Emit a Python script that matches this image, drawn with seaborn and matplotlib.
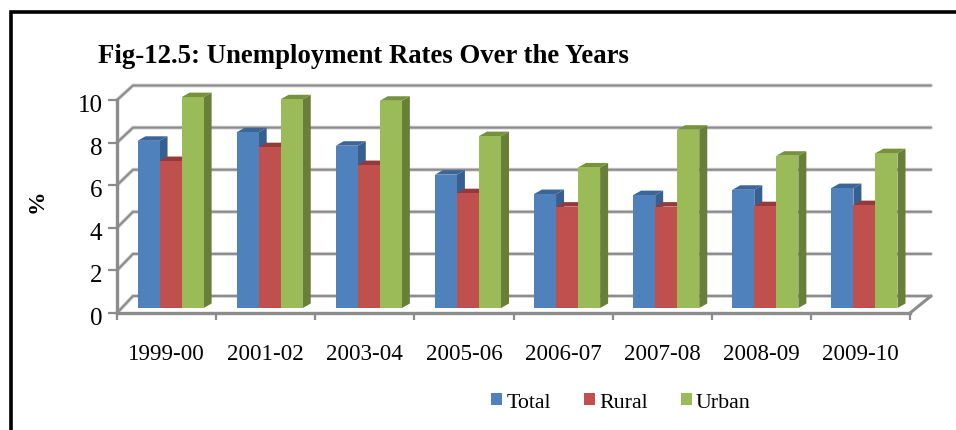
import matplotlib
matplotlib.use("Agg")
import matplotlib.pyplot as plt
import pandas as pd
import seaborn as sns
from matplotlib.patches import Polygon, Rectangle
from matplotlib.transforms import Affine2D

years = ["1999-00", "2001-02", "2003-04", "2005-06", "2006-07", "2007-08", "2008-09", "2009-10"]
total = [7.85, 8.25, 7.62, 6.26, 5.35, 5.3, 5.55, 5.63]
rural = [6.9, 7.55, 6.71, 5.39, 4.76, 4.76, 4.78, 4.83]
urban = [9.9, 9.8, 9.73, 8.07, 6.6, 8.37, 7.15, 7.27]

W, H = 956, 431
front_colors = {"Total": "#4F81BD", "Rural": "#C0504D", "Urban": "#9BBB59"}
side_colors = {"Total": "#375F8F", "Rural": "#8E3A38", "Urban": "#687F3A"}
top_colors = {"Total": "#3C6698", "Rural": "#95393A", "Urban": "#76923C"}
GRID = "#8C8C8C"
HALO = "#D4D4D4"

sns.set_theme(style="white")
plt.rcParams["font.family"] = ["Liberation Serif"]

df = pd.DataFrame({"Year": years, "Total": total, "Rural": rural, "Urban": urban}).melt(
    id_vars="Year", var_name="Series", value_name="Rate"
)

fig = plt.figure(figsize=(W / 100, H / 100), dpi=100, facecolor="white")
# front plane of the pseudo-3D box, in pixels
left, right, base, top = 117, 910, 314, 101
ax = fig.add_axes([left / W, 1 - base / H, (right - left) / W, (base - top) / H])
ax.patch.set_alpha(0)

ux = (right - left) / 8   # pixels per category
uy = (base - top) / 10    # pixels per percentage point

sns.barplot(data=df, x="Year", y="Rate", hue="Series", hue_order=list(front_colors),
            palette=front_colors, width=0.667, dodge=True, saturation=1, gap=0,
            ax=ax, legend=False, zorder=3, linewidth=0)
ax.set_xlim(-0.5, 7.5)
ax.set_ylim(0, 10)

# back wall and floor: the box narrows slightly towards the top
back_l, back_r = 16 / ux, 21 / ux
for v in range(0, 11, 2):
    rise = (17 - 0.25 * v) / uy
    xs = [-0.5, -0.5 + back_l, 7.5 + back_r]
    ys = [v, v + rise, v + rise]
    ax.plot(xs, ys, color=HALO, lw=2.8, clip_on=False, zorder=0.5, solid_joinstyle="miter")
    ax.plot(xs, ys, color=GRID, lw=1.5, clip_on=False, zorder=1, solid_joinstyle="miter")
ax.plot([7.5, 7.5 + back_r], [0, 17 / uy], color=GRID, lw=2.2, clip_on=False, zorder=2)

# move every bar onto the floor and extrude it backwards
shift_x, shift_y = 4 / ux, 5 / uy
depth_x, depth_y = 8 / ux, 4.5 / uy
names = list(front_colors)
for name, container in zip(names, ax.containers):
    z = 3 + names.index(name)
    for bar in container:
        x0, w, h = bar.get_x(), bar.get_width(), bar.get_height()
        bar.set_x(x0 + shift_x)
        bar.set_y(shift_y)
        bar.set_clip_on(False)
        bar.set_zorder(z + 0.2)
        xl, xr = x0 + shift_x, x0 + w + shift_x
        yb, yt = shift_y, h + shift_y
        ax.add_patch(Polygon([(xr, yb), (xr, yt), (xr + depth_x, yt + depth_y), (xr + depth_x, yb + depth_y)],
                             closed=True, fc=side_colors[name], ec="none", clip_on=False, zorder=z))
        ax.add_patch(Polygon([(xl, yt), (xr, yt), (xr + depth_x, yt + depth_y), (xl + depth_x, yt + depth_y)],
                             closed=True, fc=top_colors[name], ec="none", clip_on=False, zorder=z + 0.1))

# axes on the front plane
sns.despine(ax=ax)
for s in ("left", "bottom"):
    ax.spines[s].set_color(GRID)
    ax.spines[s].set_linewidth(2.4)
    ax.spines[s].set_zorder(8)
ax.set_yticks(range(0, 11, 2))
ax.set_xticks([i - 0.5 for i in range(9)])
ax.set_xticklabels([])
ax.set_xticks(range(8), labels=years, minor=True)
ax.tick_params(axis="x", which="major", length=5, width=1.6, color=GRID, bottom=True)
ax.tick_params(axis="x", which="minor", length=0, pad=21.5, labelsize=16.6, labelcolor="black")
ax.tick_params(axis="y", length=6.5, width=1.6, color=GRID, left=True, pad=4, labelsize=18, labelcolor="black")
for label in ax.get_yticklabels():
    label.set_transform(label.get_transform() + Affine2D().translate(0, -2.5))
ax.set_xlabel("")
ax.set_ylabel("")

fig.text(98 / W, 1 - 63 / H, "Fig-12.5: Unemployment Rates Over the Years",
         fontsize=19.3, fontweight="bold", color="black", ha="left", va="baseline")
fig.text(37 / W, 1 - 201 / H, "%", fontsize=17, fontweight="bold", color="black",
         rotation=90, ha="center", va="center")

handles = [Rectangle((0, 0), 1, 1, fc=front_colors[n], ec="none") for n in names]
fig.legend(handles, names, loc="center left", bbox_to_anchor=(491 / W, 1 - 403.5 / H),
           ncol=3, frameon=False, fontsize=15.8, handlelength=0.5, handleheight=0.5,
           handletextpad=0.2, columnspacing=1.5, borderpad=0, borderaxespad=0, labelcolor="black")

# black rule along the top and left of the page
fig.add_artist(plt.Line2D([11 / W, 11 / W, 1], [0, 1 - 12.5 / H, 1 - 12.5 / H], transform=fig.transFigure,
                          color="black", lw=2.6, solid_joinstyle="miter"))

fig.savefig("out.png", dpi=100, facecolor="white")
